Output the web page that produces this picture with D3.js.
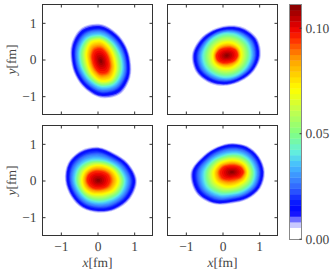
<!DOCTYPE html>
<html>
<head>
<meta charset="utf-8">
<script src="https://cdn.jsdelivr.net/npm/d3@7"></script>
<style>
  html, body { margin: 0; padding: 0; background: #fff; }
  svg { display: block; }
  text { font-family: "Liberation Serif", serif; font-size: 13.5px; fill: #444; text-rendering: geometricPrecision; }
  .domain, .tick line { stroke: #333; }
</style>
</head>
<body>
<svg id="chart" width="332" height="274"></svg>
<script>
// contour values, radii are in fm from the peak,
// one radius per direction, clockwise from north
const directions = [0, 30, 60, 90, 120, 150, 180, 210, 240, 270, 300, 330];
const ringLevels = [0.095, 0.07, 0.04, 0.015, 0.006];

const topLeftPeak = [0.09, -0.04, 0.111];
const topLeftRings = [
  [0.33, 0.26, 0.22, 0.22, 0.27, 0.34, 0.33, 0.26, 0.22, 0.22, 0.27, 0.34],
  [0.55, 0.44, 0.38, 0.38, 0.46, 0.57, 0.55, 0.44, 0.38, 0.38, 0.46, 0.57],
  [0.70, 0.60, 0.55, 0.57, 0.65, 0.73, 0.70, 0.60, 0.55, 0.57, 0.65, 0.73],
  [0.90, 0.78, 0.72, 0.73, 0.83, 0.93, 0.90, 0.78, 0.72, 0.73, 0.83, 0.93],
  [1.00, 0.87, 0.80, 0.81, 0.92, 1.04, 1.00, 0.87, 0.80, 0.81, 0.92, 1.04]
];

const topRightPeak = [0.12, 0.11, 0.111];
const topRightRings = [
  [0.20, 0.23, 0.28, 0.29, 0.25, 0.21, 0.20, 0.23, 0.28, 0.29, 0.25, 0.21],
  [0.36, 0.38, 0.40, 0.39, 0.38, 0.36, 0.36, 0.38, 0.40, 0.39, 0.38, 0.36],
  [0.61, 0.63, 0.66, 0.65, 0.62, 0.60, 0.60, 0.62, 0.66, 0.66, 0.62, 0.60],
  [0.73, 0.79, 0.85, 0.83, 0.77, 0.72, 0.74, 0.79, 0.86, 0.86, 0.77, 0.72],
  [0.81, 0.88, 0.94, 0.92, 0.85, 0.80, 0.82, 0.88, 0.95, 0.95, 0.86, 0.80]
];

const bottomLeftPeak = [0.02, 0.0, 0.111];
const bottomLeftRings = [
  [0.25, 0.27, 0.31, 0.32, 0.29, 0.24, 0.22, 0.24, 0.27, 0.30, 0.30, 0.27],
  [0.42, 0.44, 0.50, 0.55, 0.50, 0.41, 0.38, 0.41, 0.44, 0.45, 0.45, 0.43],
  [0.56, 0.58, 0.65, 0.73, 0.70, 0.62, 0.59, 0.59, 0.59, 0.63, 0.64, 0.60],
  [0.83, 0.78, 0.86, 0.96, 0.91, 0.84, 0.79, 0.79, 0.78, 0.82, 0.87, 0.86],
  [0.91, 0.86, 0.94, 1.05, 1.00, 0.92, 0.87, 0.87, 0.86, 0.90, 0.95, 0.94]
];

const bottomRightPeak = [0.26, 0.23, 0.111];
const bottomRightRings = [
  [0.18, 0.20, 0.26, 0.31, 0.26, 0.20, 0.19, 0.23, 0.31, 0.33, 0.27, 0.20],
  [0.33, 0.35, 0.40, 0.43, 0.42, 0.39, 0.40, 0.45, 0.52, 0.51, 0.43, 0.35],
  [0.50, 0.54, 0.58, 0.62, 0.63, 0.60, 0.60, 0.70, 0.80, 0.76, 0.62, 0.52],
  [0.72, 0.75, 0.78, 0.81, 0.81, 0.77, 0.77, 0.92, 1.04, 1.03, 0.82, 0.73],
  [0.79, 0.82, 0.85, 0.89, 0.89, 0.85, 0.85, 1.00, 1.13, 1.12, 0.90, 0.80]
];

// colormap stops
const colorStops = [0, 0.005, 0.0125, 0.018, 0.024, 0.035, 0.0414, 0.05, 0.06, 0.071, 0.085, 0.095, 0.1, 0.111];
const colorValues = ["#ffffff", "#ffffff", "#0000ff", "#0a1eff", "#3264ff", "#46beff", "#64f0dc",
  "#82ff82", "#beff50", "#ffff00", "#ffa000", "#ff2800", "#eb0000", "#800000"];

const xTicks = [-1, 0, 1];
const yTicks = [-1, 0, 1];
const colorTicks = [0, 0.05, 0.1];
const colorTickLabels = ["0.00", "0.05", "0.10"];
const fmDomain = [-1.5, 1.5];
const colorMax = 0.111;
const bandCount = 42;

const panels = [
  { peak: topLeftPeak, rings: topLeftRings, left: 42.5, top: 4.5, showX: false, showY: true },
  { peak: topRightPeak, rings: topRightRings, left: 167.5, top: 4.5, showX: false, showY: false },
  { peak: bottomLeftPeak, rings: bottomLeftRings, left: 42.5, top: 125.5, showX: true, showY: true },
  { peak: bottomRightPeak, rings: bottomRightRings, left: 167.5, top: 125.5, showX: true, showY: false }
];

const panelSize = 110;
const svg = d3.select("#chart");

const color = d3.scaleLinear().domain(colorStops).range(colorValues).clamp(true);
const bandEdges = d3.range(bandCount + 1).map(i => (i * colorMax) / bandCount);

const x = d3.scaleLinear().domain(fmDomain).range([0, panelSize]);
const y = d3.scaleLinear().domain(fmDomain).range([panelSize, 0]);
const fmToPx = r => x(r) - x(0);
const minusLabel = d => (d < 0 ? "\u2212" + Math.abs(d) : String(d));

function drawPanel(panel, index) {
  const g = svg.append("g").attr("transform", `translate(${panel.left},${panel.top})`);
  const clipId = `clip${index}`;

  g.append("clipPath").attr("id", clipId)
    .append("rect").attr("width", panelSize).attr("height", panelSize);

  const [peakX, peakY, peakValue] = panel.peak;
  const levelDomain = [peakValue].concat(ringLevels);
  const radiusAt = directions.map((_, i) =>
    d3.scaleLinear()
      .domain(levelDomain)
      .range([0].concat(panel.rings.map(ring => ring[i])))
  );

  const line = d3.lineRadial().curve(d3.curveCatmullRomClosed.alpha(0.5));

  const field = g.append("g")
    .attr("clip-path", `url(#${clipId})`)
    .append("g")
    .attr("transform", `translate(${x(peakX)},${y(peakY)})`);

  // outermost band first, each one painted over the previous
  bandEdges.slice(1, -1).filter(level => level < peakValue).forEach(level => {
    const points = directions.map((deg, j) => [
      (deg * Math.PI) / 180,
      Math.max(0, fmToPx(radiusAt[j](level)))
    ]);
    field.append("path")
      .attr("d", line(points))
      .attr("fill", color(level + colorMax / bandCount / 2));
  });

  g.append("rect")
    .attr("width", panelSize).attr("height", panelSize)
    .attr("fill", "none").attr("stroke", "#333").attr("stroke-width", 1);

  const hide = s => s.call(a => a.select(".domain").remove());

  g.append("g").attr("transform", `translate(0,${panelSize})`)
    .call(d3.axisBottom(x).tickValues(xTicks).tickSize(-3).tickPadding(6)
      .tickFormat(panel.showX ? minusLabel : ""))
    .call(hide);
  g.append("g")
    .call(d3.axisTop(x).tickValues(xTicks).tickSize(-3).tickFormat(""))
    .call(hide);
  g.append("g")
    .call(d3.axisLeft(y).tickValues(yTicks).tickSize(-3).tickPadding(6)
      .tickFormat(panel.showY ? minusLabel : ""))
    .call(hide);
  g.append("g").attr("transform", `translate(${panelSize},0)`)
    .call(d3.axisRight(y).tickValues(yTicks).tickSize(-3).tickFormat(""))
    .call(hide);

  if (panel.showX) {
    const label = g.append("text")
      .attr("x", panelSize / 2).attr("y", panelSize + 31)
      .attr("text-anchor", "middle");
    label.append("tspan").attr("font-style", "italic").text("x");
    label.append("tspan").text("[fm]");
  }
  if (panel.showY) {
    const label = g.append("text")
      .attr("transform", `translate(-27,${panelSize / 2}) rotate(-90)`)
      .attr("text-anchor", "middle");
    label.append("tspan").attr("font-style", "italic").text("y");
    label.append("tspan").text("[fm]");
  }
}

panels.forEach(drawPanel);

// colorbar
const barLeft = 289.5, barWidth = 12, barTop = 4.5, barBottom = 239.5;
const barScale = d3.scaleLinear().domain([0, colorMax]).range([barBottom - 0.8, barTop]);
const bar = svg.append("g");

bar.selectAll("rect.band")
  .data(d3.pairs(bandEdges))
  .enter()
  .append("rect")
  .attr("class", "band")
  .attr("x", barLeft)
  .attr("width", barWidth)
  .attr("y", d => barScale(d[1]))
  .attr("height", d => barScale(d[0]) - barScale(d[1]) + 0.4)
  .attr("fill", d => color((d[0] + d[1]) / 2));

bar.append("rect")
  .attr("x", barLeft).attr("y", barTop)
  .attr("width", barWidth).attr("height", barBottom - barTop)
  .attr("fill", "none").attr("stroke", "#888").attr("stroke-width", 1);

bar.append("g").attr("transform", `translate(${barLeft + barWidth},0)`)
  .call(d3.axisRight(barScale).tickValues(colorTicks).tickSize(-2).tickPadding(4)
    .tickFormat((d, i) => colorTickLabels[i]))
  .call(a => a.select(".domain").remove());
</script>
</body>
</html>
